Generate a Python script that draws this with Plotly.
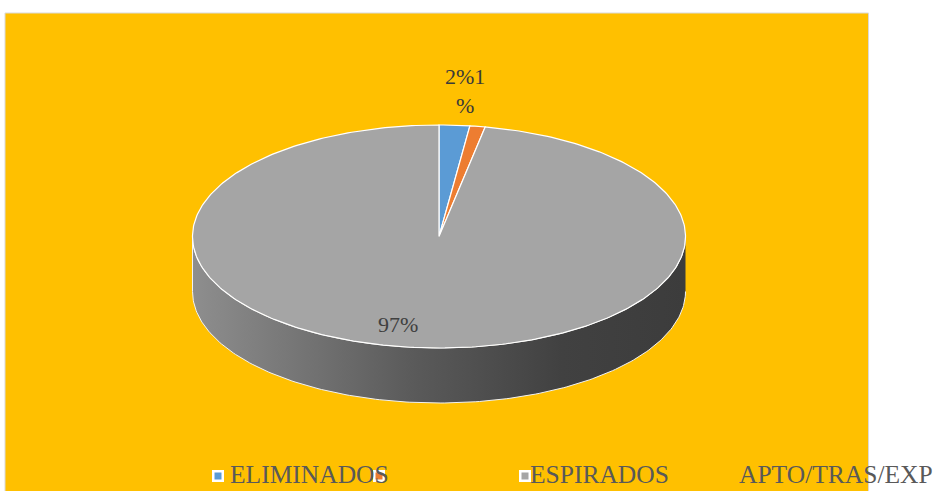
import numpy as np
import plotly.graph_objects as go

# ---- data ----
categories = ["ELIMINADOS", "ESPIRADOS", "APTO/TRAS/EXP"]
values = [2, 1, 97]
slice_labels = ["2%", "1%", "97%"]
colors = ["#5b9bd5", "#ed7d31", "#a5a5a5"]

# ---- geometry / style (pixel space) ----
W, H = 935, 491
CX, CY = 439, 236.5
RX, RY = 246.5, 111.5
DEPTH = 55
SERIF = "Liberation Serif"

fig = go.Figure()

# side wall (front half of the cylinder)
t = np.linspace(np.pi / 2, 3 * np.pi / 2, 200)  # right -> bottom -> left
top_x = CX + RX * np.sin(t)
top_y = CY - RY * np.cos(t)
side_x = np.concatenate([top_x, top_x[::-1]])
side_y = np.concatenate([top_y, (top_y + DEPTH)[::-1]])
fig.add_trace(go.Scatter(
    x=side_x, y=side_y, mode="lines", fill="toself",
    line=dict(color="#f2f2f2", width=1),
    fillgradient=dict(type="horizontal",
                      colorscale=[[0, "#8e8e8e"], [0.45, "#5a5a5a"],
                                  [0.75, "#414141"], [1, "#3c3c3c"]]),
    hoverinfo="skip", showlegend=False))

# top face wedges from values
total = float(sum(values))
start = 0.0
for cat, v, c in zip(categories, values, colors):
    a0 = 2 * np.pi * start / total
    a1 = 2 * np.pi * (start + v) / total
    tt = np.linspace(a0, a1, max(3, int(400 * v / total)))
    xs = np.concatenate([[CX], CX + RX * np.sin(tt), [CX]])
    ys = np.concatenate([[CY], CY - RY * np.cos(tt), [CY]])
    fig.add_trace(go.Scatter(
        x=xs, y=ys, mode="lines", fill="toself", fillcolor=c,
        line=dict(color="white", width=1.2), name=cat,
        hoverinfo="name", showlegend=False))
    start += v

# data labels
fig.add_annotation(x=465, y=91, text=slice_labels[0] + slice_labels[1][0] + "<br>" + slice_labels[1][1:],
                   showarrow=False, font=dict(family=SERIF, size=22, color="#3a3a3a"),
                   xanchor="center", yanchor="middle")
fig.add_annotation(x=398, y=324, text=slice_labels[2], showarrow=False,
                   font=dict(family=SERIF, size=22, color="#404040"),
                   xanchor="center", yanchor="middle")

# background plot area
shapes = [dict(type="rect", x0=5, x1=868.5, y0=13, y1=495, layer="below",
               fillcolor="#ffc000", line=dict(color="#d9d9d9", width=1))]

# legend (markers + labels)
marker_x = [218, 379, 525]
for mx, c in zip(marker_x, colors):
    shapes.append(dict(type="rect", x0=mx - 6, x1=mx + 6, y0=470, y1=482,
                       fillcolor="white", line=dict(width=0), layer="above"))
    shapes.append(dict(type="rect", x0=mx - 3.5, x1=mx + 3.5, y0=472.5, y1=479.5,
                       fillcolor=c, line=dict(width=0), layer="above"))
label_x = [228, 528, 737]
for lx, txt in zip(label_x, categories):
    fig.add_annotation(x=lx, y=474, text=txt, showarrow=False, xanchor="left",
                       yanchor="middle",
                       font=dict(family=SERIF, size=25.5, color="#595959"))

fig.update_layout(
    width=W, height=H, margin=dict(l=0, r=0, t=0, b=0),
    paper_bgcolor="white", plot_bgcolor="white",
    xaxis=dict(range=[0, W], visible=False, fixedrange=True),
    yaxis=dict(range=[H, 0], visible=False, fixedrange=True),
    shapes=shapes, showlegend=False)

fig.write_html("out.html",
               config={"displayModeBar": False},
               post_script="document.body.style.margin='0';"
                           "document.body.style.overflow='hidden';")
